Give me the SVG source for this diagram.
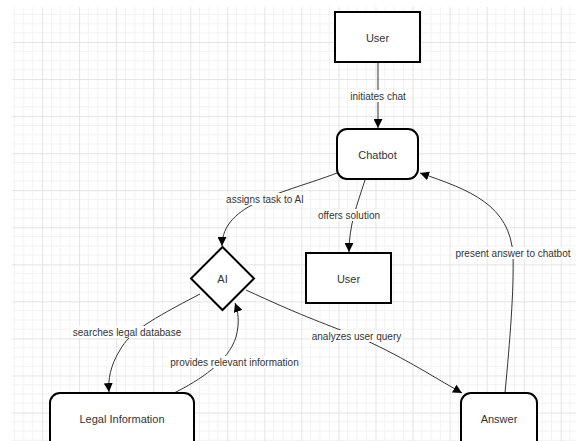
<svg xmlns="http://www.w3.org/2000/svg" width="576" height="441" viewBox="0 0 576 441">
<style>
.node rect, .node polygon { fill: #ffffff; stroke: #000000; stroke-width: 2; }
.ntext { font-family: "Liberation Sans", Arial, sans-serif; font-size: 11px; fill: #333333; text-anchor: middle; dominant-baseline: central; }
.edge { fill: none; stroke: #333333; stroke-width: 1; marker-end: url(#arrow); }
.lbg { fill: #ffffff; }
.ltext { font-family: "Liberation Sans", Arial, sans-serif; font-size: 10px; fill: #333333; text-anchor: middle; dominant-baseline: central; }
</style>
<defs>
<pattern id="grid" x="5" y="5" width="37.05" height="37.05" patternUnits="userSpaceOnUse">
<path d="M9.26,0 V37.05 M18.52,0 V37.05 M27.79,0 V37.05 M0,9.26 H37.05 M0,18.52 H37.05 M0,27.79 H37.05" stroke="#f2f2f2" stroke-width="1" fill="none"/>
<path d="M0.5,0 V37.05 M0,0.5 H37.05" stroke="#e3e3e3" stroke-width="1" fill="none"/>
</pattern>
<marker id="arrow" viewBox="0 0 10 10" refX="10" refY="5" markerWidth="9" markerHeight="9" markerUnits="userSpaceOnUse" orient="auto">
<path d="M0,0 L10,5 L0,10 z" fill="#000000"/>
</marker>
</defs>
<rect x="0" y="0" width="576" height="441" fill="#ffffff"/>
<rect x="12" y="7" width="564" height="434" fill="url(#grid)"/>

<g id="connectors">
<path class="edge" d="M378,62 L378,128"/>
<path class="edge" d="M337,173 C 285,193 222,203 222,246"/>
<path class="edge" d="M365,180 C 357,205 349,225 349,252"/>
<path class="edge" d="M505,393 C 510,340 514,290 513,255 C 510,205 470,190 420,173"/>
<path class="edge" d="M246,290 C 300,315 320,322 356,336 C 400,355 430,375 462,393"/>
<path class="edge" d="M200,294 C 150,320 130,332 120,350 C 110,366 108,380 109,392"/>
<path class="edge" d="M174,393 C 200,380 228,362 236,337 C 240,322 238,311 235,303"/>
<g id="edge-labels">
<rect class="lbg" x="348" y="90" width="60" height="12"/>
<text class="ltext" x="378" y="96">initiates chat</text>
<rect class="lbg" x="223" y="193" width="84" height="12"/>
<text class="ltext" x="265" y="199">assigns task to AI</text>
<rect class="lbg" x="316" y="209" width="66" height="12"/>
<text class="ltext" x="349" y="215">offers solution</text>
<rect class="lbg" x="453" y="247" width="120" height="12"/>
<text class="ltext" x="513" y="253">present answer to chatbot</text>
<rect class="lbg" x="310" y="330" width="93" height="12"/>
<text class="ltext" x="356.5" y="336">analyzes user query</text>
<rect class="lbg" x="71" y="326" width="113" height="12"/>
<text class="ltext" x="127" y="332">searches legal database</text>
<rect class="lbg" x="168" y="356" width="133" height="12"/>
<text class="ltext" x="234.5" y="362">provides relevant information</text>
</g>
</g>

<g id="node-user1" class="node">
<rect x="335" y="12" width="85" height="50"/>
<text class="ntext" x="377.5" y="38">User</text>
</g>
<g id="node-chatbot" class="node">
<rect x="337" y="129" width="81" height="50" rx="10" ry="10"/>
<text class="ntext" x="377.5" y="155">Chatbot</text>
</g>
<g id="node-ai" class="node">
<polygon points="222.5,247 254,278.5 222.5,310 191,278.5"/>
<text class="ntext" x="222.5" y="279">AI</text>
</g>
<g id="node-user2" class="node">
<rect x="306" y="253" width="85" height="50"/>
<text class="ntext" x="348.5" y="279">User</text>
</g>
<g id="node-legal" class="node">
<rect x="50" y="393" width="144" height="60" rx="10" ry="10"/>
<text class="ntext" x="122" y="419">Legal Information</text>
</g>
<g id="node-answer" class="node">
<rect x="461" y="393" width="76" height="60" rx="10" ry="10"/>
<text class="ntext" x="499" y="419">Answer</text>
</g>
</svg>
